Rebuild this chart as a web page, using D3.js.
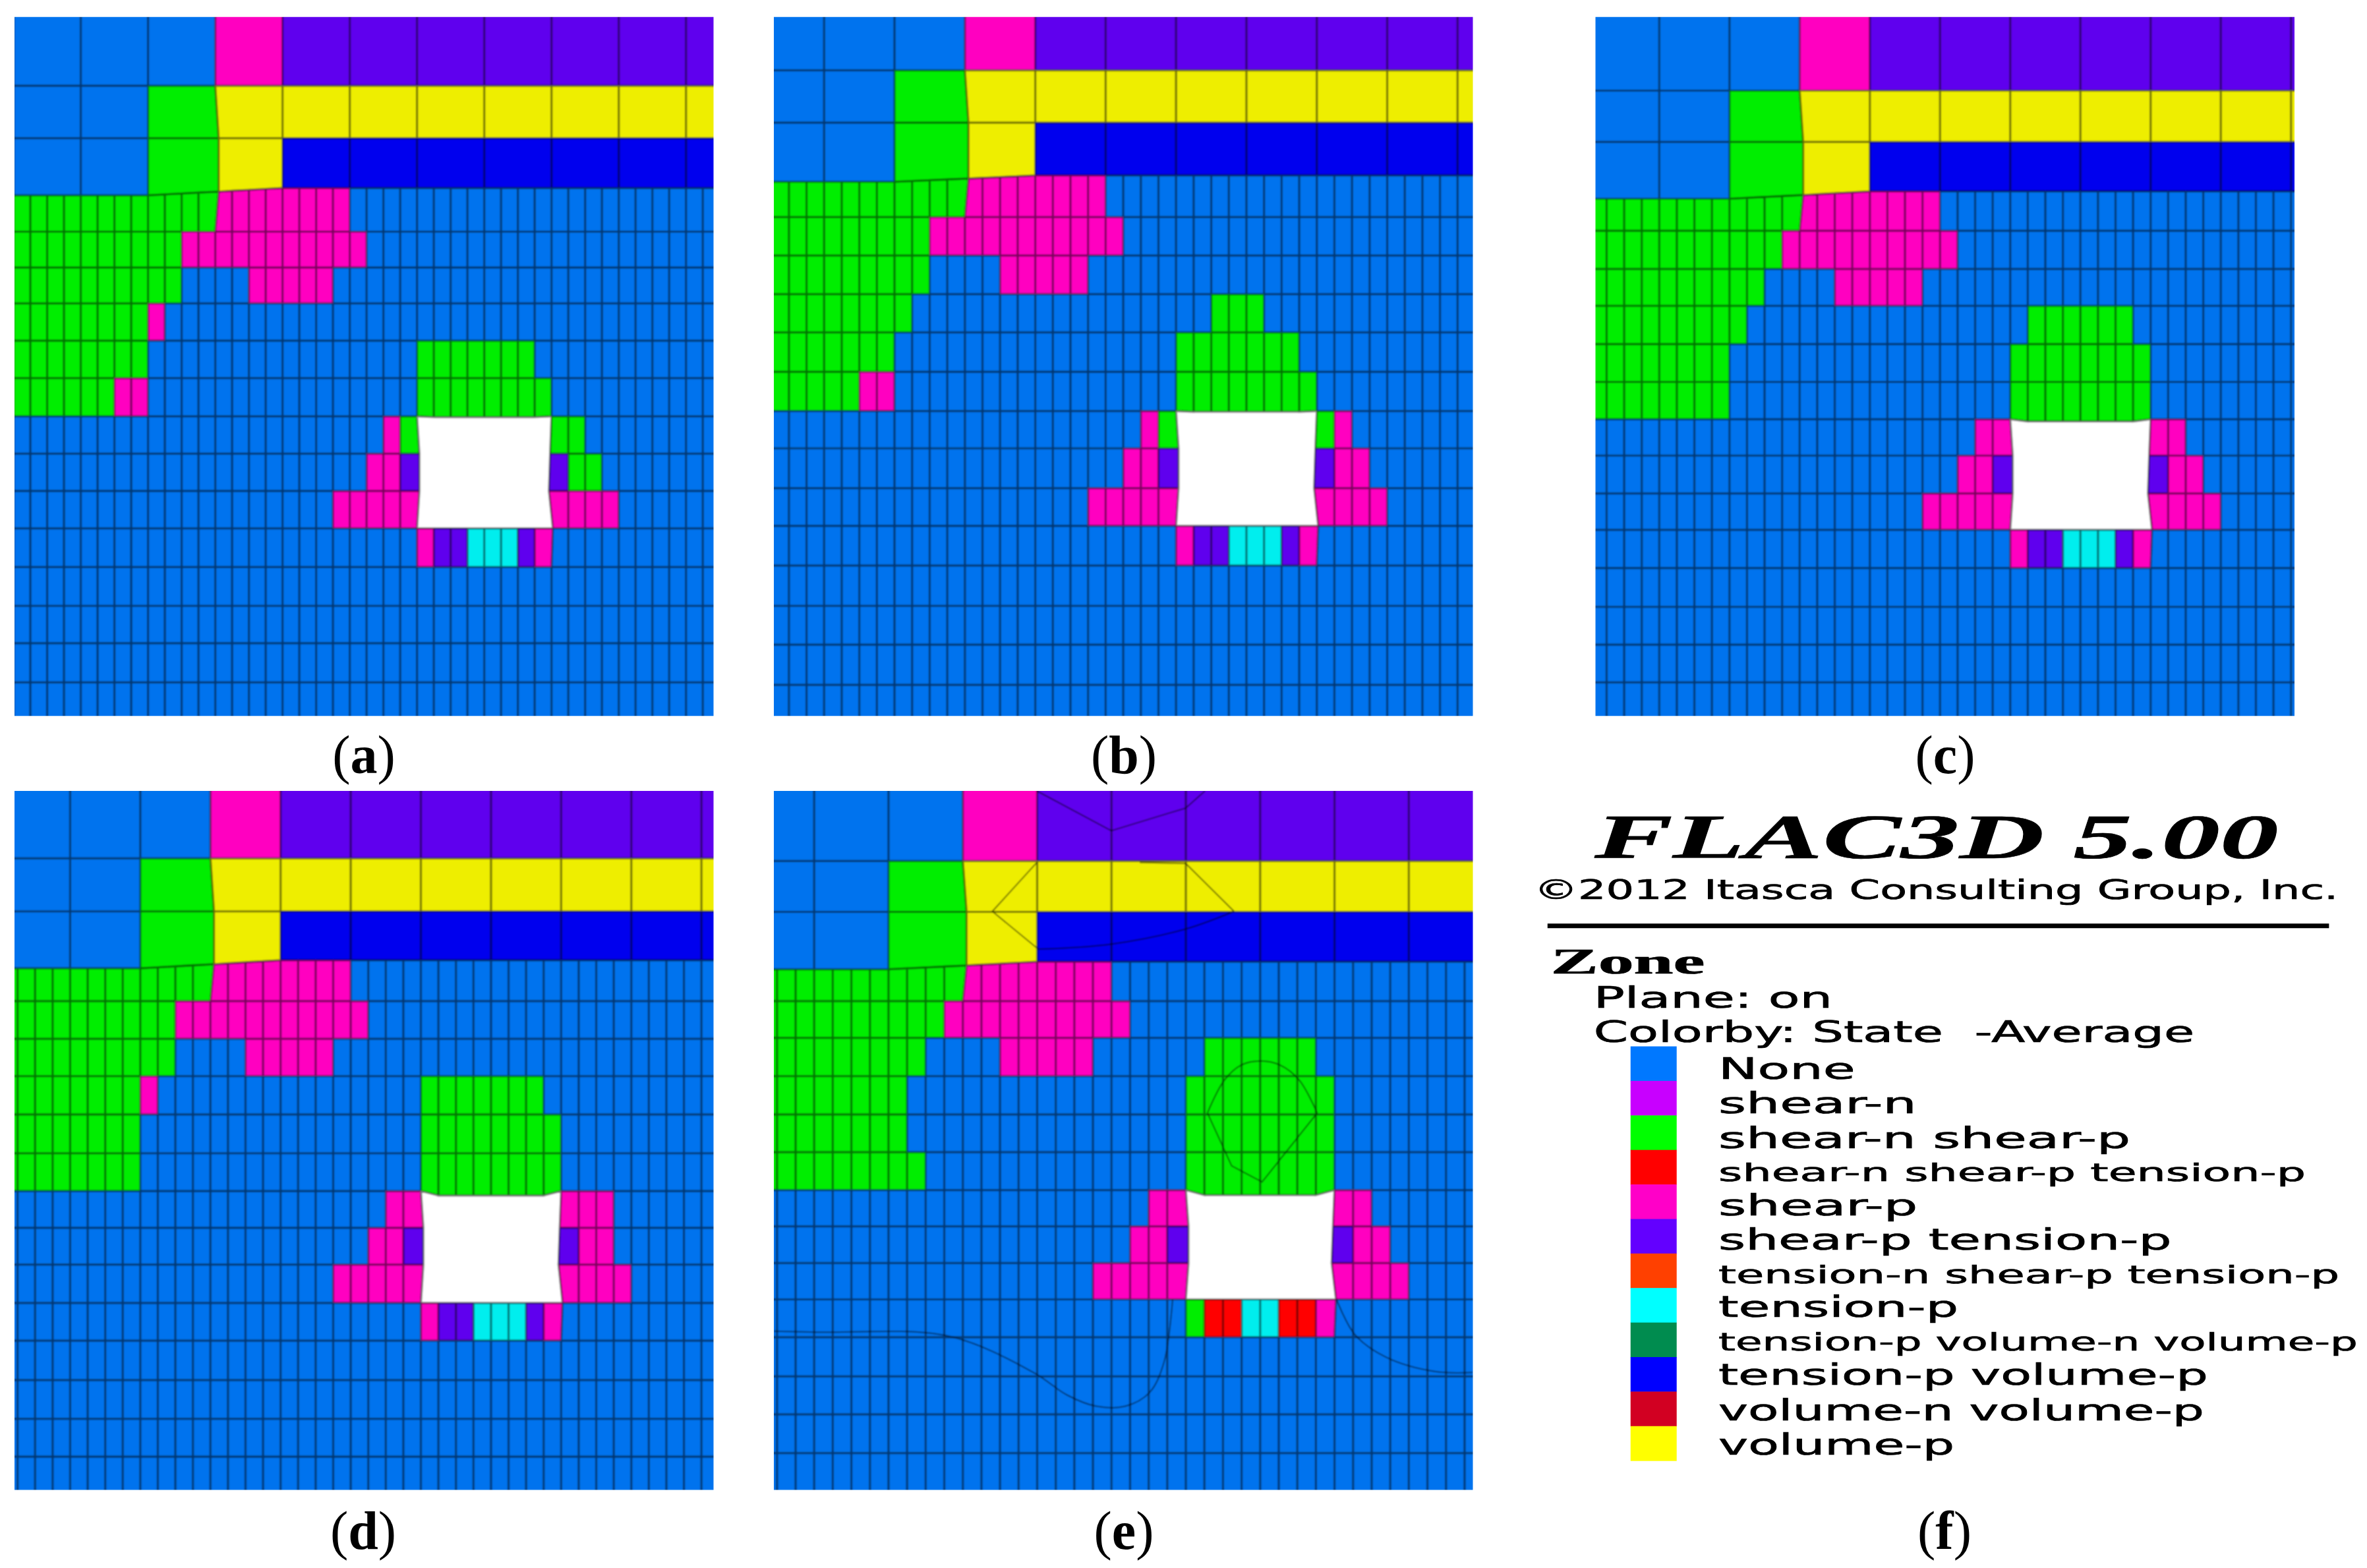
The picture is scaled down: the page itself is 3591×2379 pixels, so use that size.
<!DOCTYPE html>
<html><head><meta charset="utf-8">
<script src="https://cdnjs.cloudflare.com/ajax/libs/d3/7.8.5/d3.min.js"></script>
<style>html,body{margin:0;padding:0;background:#fff}svg{display:block}</style>
</head><body><svg id="chart" width="3591" height="2379" viewBox="0 0 3591 2379"></svg>
<script>
// ---------- zone states ----------
const stateColors = {'.':'#0073ee', m:'#ff00c0', p:'#5f00ee', g:'#00ee00', y:'#eeee00', b:'#0000ee', c:'#00eeee', r:'#ff0000', _:'#ffffff'};

// ---------- zone state maps (run-length: state + number of fine columns, last run without number fills the row) ----------
const topRows = [".12 m4 p", ".8 g4 y", ".8 g4 y4 b"];
const rowsA = [...topRows, "g12 m8","g10 m11","g10 .4 m5","g8 m1","g8 .16 g7","g6 m2 .16 g8",".22 m1 g1 _8 g2",".21 m2 p1 _8 p1 g2",".19 m5 _8 m4",".24 m1 p2 c3 p1 m1","","","",""];
const rowsB = [...topRows, "g12 m8","g10 m11","g10 .4 m5","g9 .17 g3","g8 .16 g7","g6 m2 .16 g8",".22 m1 g1 _8 g1 m1",".21 m2 p1 _8 p1 m2",".19 m5 _8 m4",".24 m1 p2 c3 p1 m1","","","",""];
const rowsC = [...topRows, "g12 m8","g11 m10","g10 .4 m5","g9 .16 g6","g8 .16 g8","g8 .16 g8",".22 m2 _8 m2",".21 m2 p1 _8 p1 m2",".19 m5 _8 m4",".24 m1 p2 c3 p1 m1","","","",""];
const rowsD = [...topRows, "g12 m8","g10 m11","g10 .4 m5","g8 m1 .15 g7","g8 .16 g8","g8 .16 g8",".22 m2 _8 m3",".21 m2 p1 _8 p1 m2",".19 m5 _8 m4",".24 m1 p2 c3 p1 m1","","","",""];
const rowsE = [...topRows, "g12 m8","g11 m10","g10 .4 m5 .6 g6","g9 .15 g8","g9 .15 g8","g10 .14 g8",".22 m2 _8 m2",".21 m2 p1 _8 p1 m2",".19 m5 _8 m4",".24 g1 r2 c2 r2 m1","","","",""];

// ---------- mesh geometry (digitised units) ----------
const edgesA = [25,177,285,388,478,552,626,703,780,859,936,1013,1090,1170,1250,1327,1408,1490];
const edgesB = [25,145,253,362,448,527,607,686,767,848,925,1007,1085,1167,1250,1330,1413,1490];
const edgesC = [25,187,293,395,476,555,631,710,788,865,940,1018,1093,1172,1252,1330,1408,1490];
const edgesD = [16,160,265,362,443,518,592,668,745,820,893,966,1042,1117,1195,1272,1347,1425];
const edgesE = [16,165,266,365,443,516,592,668,743,818,890,963,1035,1110,1188,1263,1340,1425];
const columnStart = [28,-8.6,14.8,0,-37.3];
const columnPitch = [34.8,36.4,36.3,36.3,38.44];
const digitFrameX = [[30,1477],[33,1479],[28,1474],[30,1477],[33,1479]];
const digitFrameY = [[35,1477],[35,1477],[35,1477],[26,1413],[26,1413]];
const edgeTilt = [15,13,15,16,15];
const holeBow = [0.02,0.02,0.06,0.12,0.14];
const captions = ["a","b","c","d","e"];

// ---------- contour lines in panel (e) ----------
const contoursStraightE = [
 [[577,26],[731,105],[885,60],[925,26]],
 [[577,168],[485,265],[580,340]],
 [[790,168],[885,170],[985,265]],
 [[930,665],[980,770],[1043,802],[1157,665]]
];
const contoursSmoothE = [
 [[580,340],[731,330],[885,300],[985,265]],
 [[930,665],[965,600],[1000,570],[1040,562],[1080,570],[1120,600],[1157,665]],
 [[33,1098],[120,1100],[395,1108],[570,1180],[640,1225],[700,1247],[760,1247],[810,1220],[840,1160],[858,1035]],
 [[1197,1035],[1235,1105],[1300,1150],[1400,1178],[1479,1180]]
];

// ---------- legend ----------
const legendNames = ["None","shear-n","shear-n shear-p","shear-n shear-p tension-p","shear-p","shear-p tension-p","tension-n shear-p tension-p","tension-p","tension-p volume-n volume-p","tension-p volume-p","volume-n volume-p","volume-p"];
const legendColors = ["#0078ff","#c800ff","#00ff00","#ff0000","#ff00c8","#6400ff","#ff4000","#00ffff","#008c50","#0000ff","#d20020","#ffff00"];
const legendEnds = [625,738,1132,1455,740,1208,1517,815,1551,1275,1268,808];
const legendBase = [597,665,735,800,868,937,1003,1070,1137,1205,1275,1343];

// ---------- layout ----------
const W = 3591, H = 2379;
const frameLeft = [22,1174,2420.5,22,1174], frameTop = [25.7,25.7,25.7,1200,1200], frameSize = 1060.5;
const captionX = [552,1705,2951,551,1705], captionY = [1173,1173,1173,2350,2350];

const svg = d3.select("#chart");
const defs = svg.append("defs");
defs.append("filter").attr("id","soft").attr("x","-2%").attr("y","-2%").attr("width","104%").attr("height","104%")
  .append("feGaussianBlur").attr("stdDeviation",0.9);
defs.append("filter").attr("id","softText").attr("x","-5%").attr("y","-20%").attr("width","110%").attr("height","140%")
  .append("feGaussianBlur").attr("stdDeviation",0.7);

function expand(spec){
  const out = []; const N = 42;
  spec.split(" ").filter(Boolean).forEach(t=>{
    const s = t[0]; const n = t.length>1 ? +t.slice(1) : N-out.length;
    for(let i=0;i<n;i++) out.push(s);
  });
  while(out.length<N) out.push('.');
  return out;
}

const allRows = [rowsA,rowsB,rowsC,rowsD,rowsE];
const allEdges = [edgesA,edgesB,edgesC,edgesD,edgesE];

allRows.forEach((rows,pi)=>{
  const px = d3.scaleLinear().domain(digitFrameX[pi]).range([frameLeft[pi],frameLeft[pi]+frameSize]);
  const py = d3.scaleLinear().domain(digitFrameY[pi]).range([frameTop[pi],frameTop[pi]+frameSize]);
  const col = d3.scaleLinear().domain([0,42]).range([columnStart[pi],columnStart[pi]+42*columnPitch[pi]]);
  const row = d3.scaleLinear().domain(d3.range(18)).range(allEdges[pi]);

  // mesh node with the small displacements visible around the excavation and the roof step
  const node = (k,r)=>{
    let kk = k, rr = row(r);
    if(k===12 && (r===2||r===3)) kk += 0.2;
    if(r===3) rr += edgeTilt[pi]*Math.max(0,Math.min(1,(16-k)/8));
    if(k===24 && (r===10||r===11)) kk += 0.14;
    if(k===32 && r===10) kk -= 0.08;
    if(k===32 && r===11) kk -= 0.15;
    if(k===32 && r===12) kk += 0.08;
    if(r===9 && k>24 && k<32) rr += holeBow[pi]*(row(10)-row(9));
    return [px(col(kk)),py(rr)];
  };

  const cells = [];
  rows.forEach((spec,r)=>{
    const states = expand(spec);
    const step = r<3 ? 4 : 1;
    for(let k=0;k<42;k+=step){
      const ks = [k,Math.min(k+step,42)];
      const pts = [node(ks[0],r),node(ks[1],r),node(ks[1],r+1),node(ks[0],r+1)];
      cells.push({state:states[k],pts});
    }
  });

  const clipId = "clip"+pi;
  defs.append("clipPath").attr("id",clipId).append("rect")
    .attr("x",frameLeft[pi]).attr("y",frameTop[pi]).attr("width",frameSize).attr("height",frameSize);

  const g = svg.append("g").attr("clip-path",`url(#${clipId})`).append("g").attr("filter","url(#soft)");
  const poly = d3.line();
  g.selectAll("path.cell").data(cells).join("path").attr("class","cell")
    .attr("d",d=>poly(d.pts)+"Z")
    .attr("fill",d=>stateColors[d.state])
    .attr("stroke",d=>stateColors[d.state]).attr("stroke-width",0.6);

  // mesh lines as one path so that shared edges do not double up
  g.append("path").attr("class","mesh")
    .attr("d",cells.filter(d=>d.state!=="_").map(d=>poly(d.pts)+"Z").join(""))
    .attr("fill","none").attr("stroke","#000").attr("stroke-opacity",0.52).attr("stroke-width",3.2);

  if(pi===4){
    const straight = d3.line().x(d=>px(d[0])).y(d=>py(d[1]));
    const smooth = d3.line().x(d=>px(d[0])).y(d=>py(d[1])).curve(d3.curveCatmullRom);
    g.selectAll("path.contour").data(contoursStraightE).join("path").attr("class","contour")
      .attr("d",straight).attr("fill","none").attr("stroke","#000").attr("stroke-opacity",0.55).attr("stroke-width",2);
    g.selectAll("path.contourS").data(contoursSmoothE).join("path").attr("class","contourS")
      .attr("d",smooth).attr("fill","none").attr("stroke","#000").attr("stroke-opacity",0.55).attr("stroke-width",2);
  }

  // caption
  const t = svg.append("text").attr("x",captionX[pi]).attr("y",captionY[pi]).attr("text-anchor","middle")
    .attr("font-family","'Liberation Serif',serif").attr("font-size",82).attr("fill","#000");
  t.append("tspan").text("(");
  t.append("tspan").attr("font-weight","bold").text(captions[pi]);
  t.append("tspan").text(")");
});

// ---------- legend panel (f) ----------
const lxd = d3.scaleLinear().domain([0,1568]).range([2300,3591]);
const ly = d3.scaleLinear().domain([0,1568]).range([1180,2379]);
const leg = svg.append("g").attr("filter","url(#softText)");

function stretched(txt,x0,x1,base,size,family,extra){
  const el = leg.append("text").attr("x",lxd(x0)).attr("y",ly(base))
    .attr("textLength",lxd(x1)-lxd(x0)).attr("lengthAdjust","spacingAndGlyphs")
    .attr("font-family",family).attr("font-size",size).attr("fill","#000")
    .attr("stroke","#000").attr("stroke-width",0.7).attr("xml:space","preserve").text(txt);
  if(extra) Object.entries(extra).forEach(([a,b])=>el.attr(a,b));
  return el;
}
const serif = "'Liberation Serif',serif", sans = "'DejaVu Sans',sans-serif";
stretched("FLAC3D 5.00",145,1405,160,96,serif,{"font-weight":"bold","font-style":"italic"});
stretched("©2012 Itasca Consulting Group, Inc.",33,1515,240,41,sans);
leg.append("line").attr("x1",lxd(58)).attr("x2",lxd(1498)).attr("y1",ly(294)).attr("y2",ly(294)).attr("stroke","#000").attr("stroke-width",7);
stretched("Zone",64,348,388,54,serif,{"font-weight":"bold"});
stretched("Plane: on",143,583,457,44,sans);
stretched("Colorby: State  -Average",143,1250,525,44,sans);

const swatchY = d3.scaleBand().domain(d3.range(legendNames.length)).range([ly(533),ly(1355)]);
leg.selectAll("rect.sw").data(legendColors).join("rect").attr("class","sw")
  .attr("x",lxd(211)).attr("width",lxd(296)-lxd(211))
  .attr("y",(d,i)=>swatchY(i)).attr("height",swatchY.bandwidth()+0.5).attr("fill",d=>d);
legendNames.forEach((n,i)=>{
  const small = [3,6,8].includes(i);
  stretched(n,373,legendEnds[i],legendBase[i],small?38:44,sans);
});
const f = svg.append("text").attr("x",2950).attr("y",2350).attr("text-anchor","middle")
  .attr("font-family",serif).attr("font-size",82).attr("fill","#000");
f.append("tspan").text("(");
f.append("tspan").attr("font-weight","bold").text("f");
f.append("tspan").text(")");
</script></body></html>
